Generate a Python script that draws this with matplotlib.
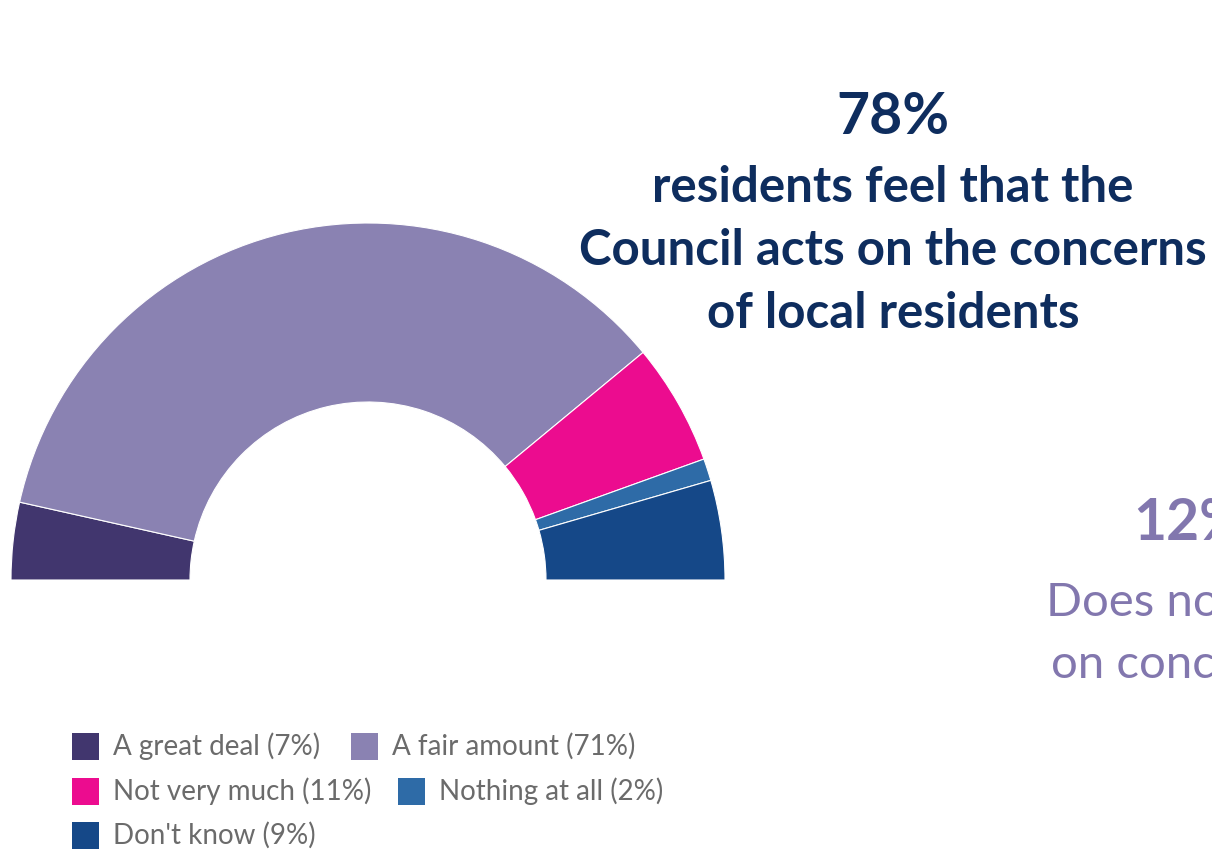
import matplotlib.pyplot as plt
from matplotlib.patches import Rectangle

# Data
labels = ["A great deal", "A fair amount", "Not very much", "Nothing at all", "Don't know"]
values = [7, 71, 11, 2, 9]
colors = ["#41366e", "#8a82b2", "#ec0c8f", "#2e6ba7", "#154888"]

navy = "#0e2d5e"
purple = "#8277ae"
grey = "#6b6b6b"

fig = plt.figure(figsize=(12.12, 8.49), dpi=100)
ax = fig.add_axes([0, 0, 1, 1])

# half donut: add an invisible wedge equal to the total
vals = values + [sum(values)]
cols = colors + ["none"]
wedges, _ = ax.pie(vals, colors=cols, startangle=180, counterclock=False,
                   center=(368, 269), radius=357,
                   wedgeprops=dict(width=179, edgecolor="white", linewidth=0.8))
wedges[-1].set_edgecolor("none")

ax.set_xlim(0, 1212)
ax.set_ylim(0, 849)
ax.set_aspect("equal")
ax.axis("off")

# headline text
ax.text(893, 849 - 117, "78%", ha="center", va="center", fontsize=41,
        fontweight="bold", color=navy, family="Lato")
for y, line in [(187, "residents feel that the"),
                (250, "Council acts on the concerns"),
                (313, "of local residents")]:
    ax.text(893, 849 - y, line, ha="center", va="center", fontsize=35.5,
            fontweight="bold", color=navy, family="Lato")

ax.text(1133, 849 - 523, "12%", ha="left", va="center", fontsize=41,
        fontweight="bold", color=purple, family="Lato")
ax.text(1046, 849 - 603, "Does not feel", ha="left", va="center", fontsize=34,
        color=purple, family="Lato")
ax.text(1051, 849 - 665, "on concerns", ha="left", va="center", fontsize=34,
        color=purple, family="Lato")

# legend (flow layout)
legend_pos = [(72, 746), (351, 746), (72, 791), (398, 791), (72, 835)]
for (x, y), lab, v, c in zip(legend_pos, labels, values, colors):
    ax.add_patch(Rectangle((x, 849 - y - 13.5), 27, 27, facecolor=c,
                           edgecolor="none"))
    ax.text(x + 41, 849 - y, f"{lab} ({v}%)", ha="left", va="center",
            fontsize=20, color=grey, family="Lato")

fig.savefig("out.png", dpi=100)
